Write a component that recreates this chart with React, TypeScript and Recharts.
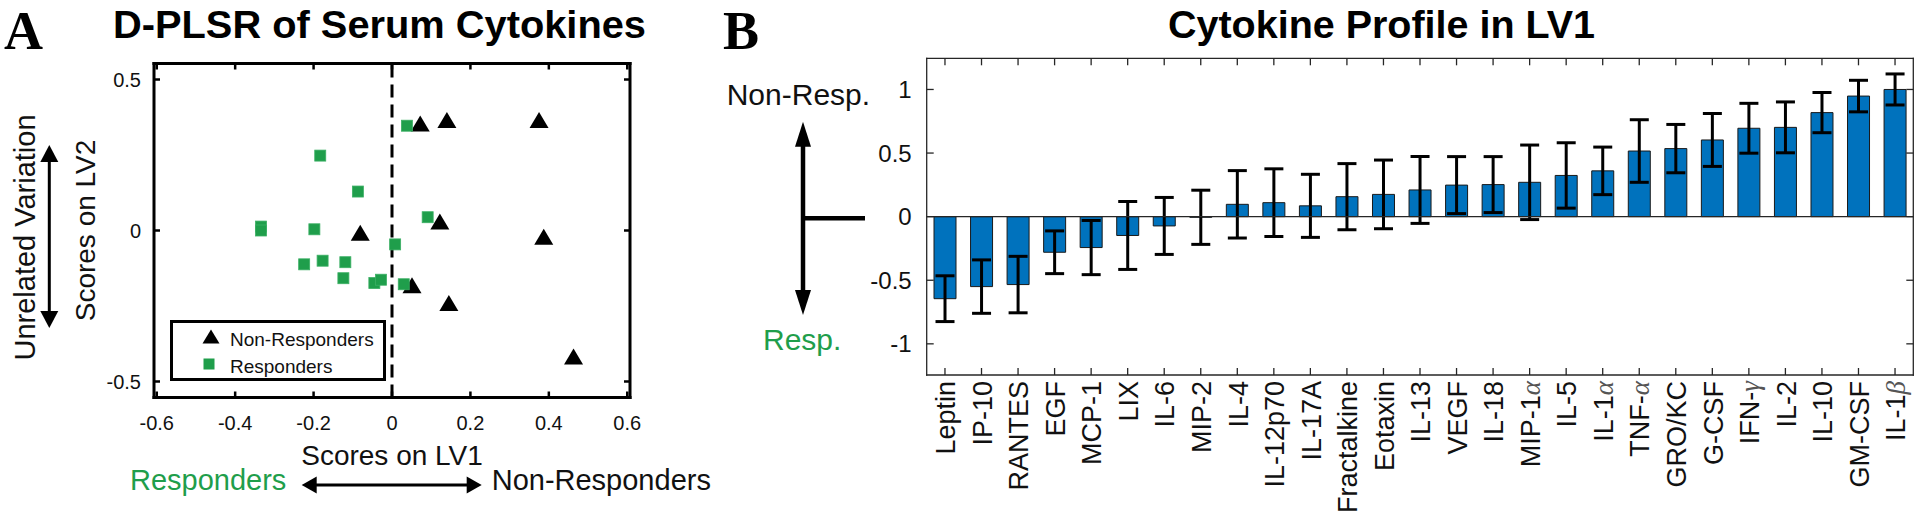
import React from 'react';
import {
  ScatterChart, Scatter, XAxis, YAxis, ReferenceLine, Legend,
  BarChart, Bar, ErrorBar,
} from 'recharts';

const SANS = '"Liberation Sans", Arial, Helvetica, sans-serif';
const SERIF = '"Liberation Serif", "Times New Roman", serif';
const GREEN = '#1f9e4b';
const BLUE = '#0072BD';
const INK = '#111';

// ---------- Panel A: D-PLSR scores ----------
const nonResponderLV1 = [0.072, 0.14, 0.375, -0.081, 0.122, 0.387, 0.051, 0.145, 0.463];
const nonResponderLV2 = [0.353, 0.364, 0.364, -0.009, 0.028, -0.022, -0.183, -0.242, -0.419];
const responderLV1 = [0.038, -0.183, -0.087, -0.334, -0.334, -0.198, 0.091, 0.008, -0.224, -0.177, -0.119, -0.124, -0.045, -0.028, 0.03];
const responderLV2 = [0.347, 0.248, 0.129, 0.013, 0.0, 0.004, 0.044, -0.046, -0.112, -0.1, -0.105, -0.158, -0.174, -0.163, -0.178];
const lv1Ticks = [-0.6, -0.4, -0.2, 0, 0.2, 0.4, 0.6];
const lv2Ticks = [-0.5, 0, 0.5];
const lv1Domain = [-0.607, 0.607];
const lv2Domain = [-0.553, 0.553];

// ---------- Panel B: cytokine loadings on LV1 ----------
const cytokines = ['Leptin', 'IP-10', 'RANTES', 'EGF', 'MCP-1', 'LIX', 'IL-6', 'MIP-2', 'IL-4', 'IL-12p70', 'IL-17A', 'Fractalkine', 'Eotaxin', 'IL-13', 'VEGF', 'IL-18', 'MIP-1α', 'IL-5', 'IL-1α', 'TNF-α', 'GRO/KC', 'G-CSF', 'IFN-γ', 'IL-2', 'IL-10', 'GM-CSF', 'IL-1β'];
const loadings = [-0.645, -0.55, -0.534, -0.28, -0.243, -0.148, -0.073, -0.005, 0.097, 0.11, 0.085, 0.157, 0.175, 0.21, 0.248, 0.252, 0.27, 0.324, 0.36, 0.516, 0.535, 0.603, 0.695, 0.702, 0.818, 0.948, 1.0];
const loadingErrors = [0.18, 0.21, 0.222, 0.168, 0.213, 0.267, 0.224, 0.213, 0.265, 0.266, 0.248, 0.26, 0.27, 0.263, 0.224, 0.22, 0.293, 0.257, 0.187, 0.246, 0.19, 0.208, 0.196, 0.2, 0.158, 0.124, 0.122];
const profileTicks = [-1, -0.5, 0, 0.5, 1];
const profileDomain = [-1.245, 1.245];

const nonRespData = nonResponderLV1.map((x, i) => ({ x, y: nonResponderLV2[i] }));
const respData = responderLV1.map((x, i) => ({ x, y: responderLV2[i] }));
const barData = cytokines.map((name, i) => ({ name, value: loadings[i], err: loadingErrors[i] }));

// layout (plot sizes, used for mirrored tick marks)
const A_W = 476;
const A_H = 334;
const B_W = 986.6;
const B_H = 316.7;

const fmt = (v: number) => String(v);

const LV1Tick = (p: any) => {
  const { x, y, payload } = p;
  return (
    <g>
      <line x1={x} x2={x} y1={y} y2={y - 6} stroke="#000" strokeWidth={2.5} />
      <line x1={x} x2={x} y1={y - A_H} y2={y - A_H + 6} stroke="#000" strokeWidth={2.5} />
      <text x={x} y={y + 32.5} textAnchor="middle" fontSize={20} fontFamily={SANS} fill={INK}>{fmt(payload.value)}</text>
    </g>
  );
};

const LV2Tick = (p: any) => {
  const { x, y, payload } = p;
  return (
    <g>
      <line x1={x} x2={x + 6} y1={y} y2={y} stroke="#000" strokeWidth={2.5} />
      <line x1={x + A_W} x2={x + A_W - 6} y1={y} y2={y} stroke="#000" strokeWidth={2.5} />
      <text x={x - 13} y={y} dy="0.36em" textAnchor="end" fontSize={20} fontFamily={SANS} fill={INK}>{fmt(payload.value)}</text>
    </g>
  );
};

const LV1Label = (p: any) => {
  const vb = p.viewBox || { x: 154, y: 397.5, width: 476 };
  return (
    <text x={vb.x + vb.width / 2} y={vb.y + 67.5} textAnchor="middle" fontSize={28} fontFamily={SANS} fill={INK}>Scores on LV1</text>
  );
};

const LV2Label = (p: any) => {
  const vb = p.viewBox || { x: 104, y: 63.5, width: 50, height: 334 };
  const bx = vb.x + vb.width - 59;
  const cy = vb.y + vb.height / 2;
  return (
    <text x={bx} y={cy} transform={`rotate(-90 ${bx} ${cy})`} textAnchor="middle" fontSize={28} fontFamily={SANS} fill={INK}>Scores on LV2</text>
  );
};

const TriangleMark = (p: any) => {
  const { cx, cy } = p;
  if (cx == null || cy == null) return <g />;
  return <polygon points={`${cx},${cy - 8.5} ${cx - 9.5},${cy + 7.5} ${cx + 9.5},${cy + 7.5}`} fill="#000" />;
};

const SquareMark = (p: any) => {
  const { cx, cy } = p;
  if (cx == null || cy == null) return <g />;
  return <rect x={cx - 5.5} y={cy - 5.5} width={11} height={11} fill={GREEN} stroke="#3cb065" strokeWidth={0.8} />;
};

const LegendBox = (props: any) => {
  const items: any[] = props.payload || [];
  return (
    <div style={{ width: 216, height: 61, border: '3px solid #000', boxSizing: 'border-box', background: '#fff' }}>
      <svg width={210} height={55} style={{ display: 'block' }}>
        {items.map((it, i) => {
          const cy = 14 + i * 27;
          return (
            <g key={i}>
              {i === 0 ? (
                <polygon points={`38,${cy - 7.5} ${38 - 8.5},${cy + 6.5} ${38 + 8.5},${cy + 6.5}`} fill="#000" />
              ) : (
                <rect x={36 - 5.5} y={cy - 5.5} width={11} height={11} fill={GREEN} />
              )}
              <text x={57} y={cy + 9} fontSize={19} fontFamily={SANS} fill={INK}>{it.value}</text>
            </g>
          );
        })}
      </svg>
    </div>
  );
};

const renderCat = (name: string) => {
  const m = name.match(/^(.*?)([αβγ])$/);
  if (!m) return name;
  return [
    <tspan key="a">{m[1]}</tspan>,
    <tspan key="b" fontFamily={SERIF} fontStyle="italic" fill="#555">{m[2]}</tspan>,
  ];
};

const FRAME_B = '#262626';

const ProfileXTick = (p: any) => {
  const { x, y, payload } = p;
  return (
    <g>
      <line x1={x} x2={x} y1={y} y2={y - 7} stroke={FRAME_B} strokeWidth={1.3} />
      <line x1={x} x2={x} y1={y - B_H} y2={y - B_H + 7} stroke={FRAME_B} strokeWidth={1.3} />
      <text x={x} y={y + 6} dy="0.38em" transform={`rotate(-90 ${x} ${y + 6})`} textAnchor="end" fontSize={27} fontFamily={SANS} fill={INK}>
        {renderCat(String(payload.value))}
      </text>
    </g>
  );
};

const ProfileYTick = (p: any) => {
  const { x, y, payload } = p;
  return (
    <g>
      <line x1={x} x2={x + 7} y1={y} y2={y} stroke={FRAME_B} strokeWidth={1.3} />
      <line x1={x + B_W} x2={x + B_W - 7} y1={y} y2={y} stroke={FRAME_B} strokeWidth={1.3} />
      <text x={x - 15} y={y} dy="0.36em" textAnchor="end" fontSize={24} fontFamily={SANS} fill={INK}>{fmt(payload.value)}</text>
    </g>
  );
};

const VArrow = ({ x, y1, y2, w, l, sw }: any) => (
  <g>
    <line x1={x} x2={x} y1={y1 + l - 1} y2={y2 - l + 1} stroke="#000" strokeWidth={sw} />
    <polygon points={`${x},${y1} ${x - w / 2},${y1 + l} ${x + w / 2},${y1 + l}`} fill="#000" />
    <polygon points={`${x},${y2} ${x - w / 2},${y2 - l} ${x + w / 2},${y2 - l}`} fill="#000" />
  </g>
);

const HArrow = ({ y, x1, x2, w, l, sw }: any) => (
  <g>
    <line y1={y} y2={y} x1={x1 + l - 1} x2={x2 - l + 1} stroke="#000" strokeWidth={sw} />
    <polygon points={`${x1},${y} ${x1 + l},${y - w / 2} ${x1 + l},${y + w / 2}`} fill="#000" />
    <polygon points={`${x2},${y} ${x2 - l},${y - w / 2} ${x2 - l},${y + w / 2}`} fill="#000" />
  </g>
);

const axisA = { stroke: '#000', strokeWidth: 3, strokeLinecap: 'square' as const };
const axisB = { stroke: FRAME_B, strokeWidth: 1.3, strokeLinecap: 'square' as const };

export default function App() {
  return (
    <div style={{ position: 'absolute', left: 0, top: 0, width: 1920, height: 524, background: '#fff', overflow: 'hidden' }}>
      <div style={{ position: 'absolute', left: 0, top: 0 }}>
        <ScatterChart width={760} height={524} margin={{ top: 53.5, right: 120, bottom: 96.5, left: 104 }}>
          <XAxis type="number" dataKey="x" domain={lv1Domain} ticks={lv1Ticks} interval={0} allowDataOverflow height={30}
            tickSize={0} tickMargin={0} tickLine={false} tick={LV1Tick} axisLine={axisA} label={<LV1Label />} />
          <XAxis xAxisId="t" orientation="top" type="number" domain={lv1Domain} allowDataOverflow height={10}
            tick={false} tickLine={false} axisLine={axisA} />
          <YAxis type="number" dataKey="y" domain={lv2Domain} ticks={lv2Ticks} interval={0} allowDataOverflow width={50}
            tickSize={0} tickMargin={0} tickLine={false} tick={LV2Tick} axisLine={axisA} label={<LV2Label />} />
          <YAxis yAxisId="r" orientation="right" type="number" domain={lv2Domain} allowDataOverflow width={10}
            tick={false} tickLine={false} axisLine={axisA} />
          <ReferenceLine x={0} stroke="#000" strokeWidth={3} strokeDasharray="13 7" />
          <Scatter name="Non-Responders" data={nonRespData} fill="#000" shape={TriangleMark} isAnimationActive={false} />
          <Scatter name="Responders" data={respData} fill={GREEN} shape={SquareMark} isAnimationActive={false} />
          <Legend layout="horizontal" verticalAlign="middle" align="center" content={LegendBox}
            wrapperStyle={{ position: 'absolute', left: 170, top: 320, width: 216, height: 61 }} />
        </ScatterChart>
      </div>

      <div style={{ position: 'absolute', left: 860, top: 0 }}>
        <BarChart width={1060} height={524} data={barData} barCategoryGap="20%"
          margin={{ top: 53.3, right: 1.7, bottom: 119, left: 26.7 }}>
          <XAxis dataKey="name" interval={0} height={30} tickSize={0} tickMargin={0} tickLine={false}
            tick={ProfileXTick} axisLine={axisB} />
          <XAxis xAxisId="t" dataKey="name" orientation="top" height={5} tick={false} tickLine={false} axisLine={axisB} />
          <YAxis type="number" domain={profileDomain} ticks={profileTicks} interval={0} allowDataOverflow width={40}
            tickSize={0} tickMargin={0} tickLine={false} tick={ProfileYTick} axisLine={axisB} />
          <YAxis yAxisId="r" orientation="right" type="number" domain={profileDomain} allowDataOverflow width={5}
            tick={false} tickLine={false} axisLine={axisB} />
          <Bar dataKey="value" fill={BLUE} stroke="#1a1a1a" strokeWidth={1} isAnimationActive={false}>
            <ErrorBar dataKey="err" width={9.5} stroke="#000" strokeWidth={3} direction="y" isAnimationActive={false} />
          </Bar>
          <ReferenceLine y={0} stroke={FRAME_B} strokeWidth={1.3} />
        </BarChart>
      </div>

      <svg width={1920} height={524} style={{ position: 'absolute', left: 0, top: 0, pointerEvents: 'none' }}>
        {/* Panel A annotations */}
        <text x={4} y={48.5} fontSize={54} fontWeight="bold" fontFamily={SERIF} fill="#000">A</text>
        <text x={379.5} y={38.3} textAnchor="middle" fontSize={38} fontWeight="bold" fontFamily={SANS} fill="#000"
          textLength={533} lengthAdjust="spacingAndGlyphs">D-PLSR of Serum Cytokines</text>
        <text x={35} y={237.5} transform="rotate(-90 35 237.5)" textAnchor="middle" fontSize={29} fontFamily={SANS} fill={INK}>Unrelated Variation</text>
        <VArrow x={49.3} y1={145} y2={328} w={18} l={17} sw={3} />
        <text x={130} y={490} fontSize={29} fontFamily={SANS} fill={GREEN}>Responders</text>
        <HArrow y={485} x1={301.7} x2={481.7} w={17} l={15} sw={3} />
        <text x={491.7} y={490} fontSize={29} fontFamily={SANS} fill={INK}>Non-Responders</text>

        {/* Panel B annotations */}
        <text x={723} y={48.5} fontSize={54} fontWeight="bold" fontFamily={SERIF} fill="#000">B</text>
        <text x={1381.5} y={37.5} textAnchor="middle" fontSize={38} fontWeight="bold" fontFamily={SANS} fill="#000"
          textLength={427} lengthAdjust="spacingAndGlyphs">Cytokine Profile in LV1</text>
        <text x={726.7} y={105} fontSize={30} fontFamily={SANS} fill={INK}>Non-Resp.</text>
        <VArrow x={803} y1={121.7} y2={315} w={16} l={25} sw={4.5} />
        <line x1={803} x2={865} y1={218.3} y2={218.3} stroke="#000" strokeWidth={4.5} />
        <text x={763} y={350} fontSize={30} fontFamily={SANS} fill={GREEN}>Resp.</text>
      </svg>
    </div>
  );
}
